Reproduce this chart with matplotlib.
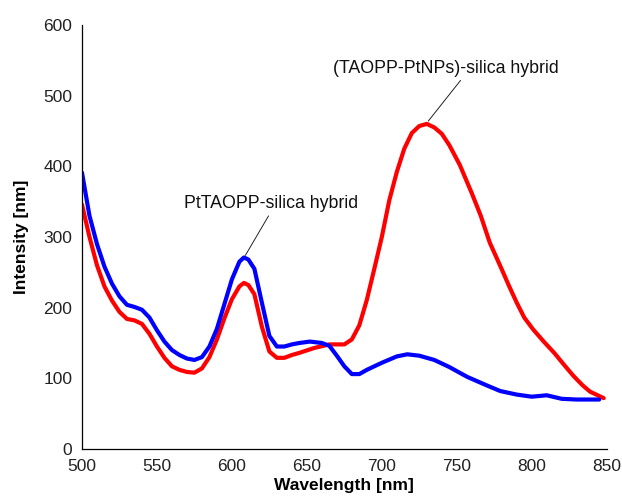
import matplotlib
matplotlib.use("Agg")
import matplotlib.pyplot as plt

# PtTAOPP-silica hybrid (blue)
blue_wl = [500, 505, 510, 515, 520, 525, 530, 535, 540, 545, 550, 555, 560,
           565, 570, 575, 580, 585, 590, 595, 600, 605, 608, 611, 615, 620,
           625, 630, 635, 640, 645, 652, 660, 665, 670, 675, 680, 685, 690,
           700, 710, 717, 725, 735, 745, 757, 770, 779, 790, 800, 810, 820,
           830, 845]
blue_int = [391, 330, 290, 258, 234, 216, 204, 201, 197, 186, 168, 152, 140,
            133, 128, 126, 130, 145, 170, 205, 240, 265, 271, 268, 255, 207,
            160, 145, 145, 148, 150, 152, 150, 146, 132, 117, 106, 106, 112,
            122, 131, 134, 132, 126, 116, 102, 90, 82, 77, 74, 76, 71,
            70, 70]

# (TAOPP-PtNPs)-silica hybrid (red)
red_wl = [500, 505, 510, 515, 520, 525, 530, 535, 540, 545, 550, 555, 560,
          565, 570, 575, 580, 585, 590, 595, 600, 605, 608, 611, 615, 620,
          625, 630, 635, 640, 645, 655, 665, 675, 680, 685, 690, 695, 700,
          705, 710, 715, 720, 725, 730, 735, 740, 745, 752, 760, 766, 772,
          779, 785, 790, 795, 801, 808, 815, 822, 828, 834, 839, 848]
red_int = [346, 300, 260, 230, 210, 194, 184, 182, 177, 163, 145, 129, 117,
           112, 109, 108, 114, 130, 155, 185, 212, 230, 235, 232, 219, 173,
           138, 129, 129, 133, 136, 143, 148, 148, 155, 175, 211, 255, 300,
           352, 392, 425, 447, 457, 460, 455, 446, 430, 402, 362, 330, 292,
           259, 230, 207, 186, 169, 152, 136, 118, 103, 90, 81, 72]

x_ticks = [500, 550, 600, 650, 700, 750, 800, 850]
y_ticks = [0, 100, 200, 300, 400, 500, 600]

plt.rcParams["font.family"] = ["Liberation Sans", "DejaVu Sans"]

fig = plt.figure(figsize=(6.22, 4.99), dpi=100)
ax = fig.add_axes([0.1318, 0.1002, 0.8436, 0.8498])

line_kw = dict(lw=3.0, solid_capstyle="round", solid_joinstyle="round")
ax.plot(red_wl, red_int, color="#ff0000", **line_kw)
ax.plot(blue_wl, blue_int, color="#0000ff", **line_kw)

ax.set_xlim(500, 850)
ax.set_ylim(0, 600)
ax.set_xticks(x_ticks)
ax.set_yticks(y_ticks)
ax.tick_params(length=0, labelsize=12.5, pad=7, labelcolor="#222222")
for side in ("top", "right"):
    ax.spines[side].set_visible(False)
for side in ("left", "bottom"):
    ax.spines[side].set_linewidth(0.9)

ax.set_xlabel("Wavelength [nm]", fontsize=12.5, fontweight="bold", labelpad=3)
ax.set_ylabel("Intensity [nm]", fontsize=12.5, fontweight="bold", labelpad=10)

ax.annotate("(TAOPP-PtNPs)-silica hybrid", xy=(731, 464), xytext=(742.5, 539),
            ha="center", va="center", fontsize=12.8, color="#111111",
            arrowprops=dict(arrowstyle="-", color="#222222", lw=0.7,
                            relpos=(0.58, 0), shrinkA=1, shrinkB=0))
ax.annotate("PtTAOPP-silica hybrid", xy=(609, 274), xytext=(626, 347.5),
            ha="center", va="center", fontsize=12.8, color="#111111",
            arrowprops=dict(arrowstyle="-", color="#222222", lw=0.7,
                            relpos=(0.5, 0), shrinkA=1, shrinkB=0))

fig.savefig("out.png", dpi=100)
